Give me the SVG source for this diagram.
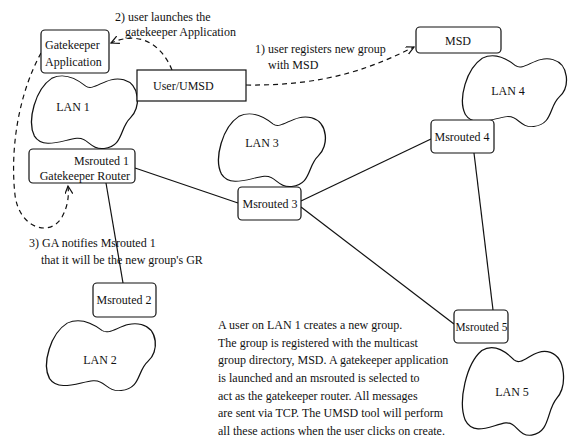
<svg xmlns="http://www.w3.org/2000/svg" width="570" height="442" viewBox="0 0 570 442">
<style>
text{font-family:"Liberation Serif","Times New Roman",serif;font-size:12px;fill:#111}
.box{fill:#fff;stroke:#111;stroke-width:1.2}
.cloud{fill:#fff;stroke:#111;stroke-width:1.2}
.link{stroke:#111;stroke-width:1.2;fill:none}
.dash{stroke:#111;stroke-width:1.2;fill:none;stroke-dasharray:5 4}
.c{text-anchor:middle}
.e{text-anchor:end}
</style>
<defs>
<marker id="arr" markerWidth="10" markerHeight="10" refX="8" refY="4" orient="auto" markerUnits="userSpaceOnUse">
<path d="M0,0 L8,4 L0,8" fill="none" stroke="#111" stroke-width="1.2"/>
</marker>
<path id="bean" d="M20,8 C32,0 44,10 51,18 C59,26 70,4 86,10 C101,16 102,46 92,59 C82,72 86,95 68,98 C55,100 54,84 43,85 C30,87 12,100 4,82 C-3,62 5,22 20,8 Z"/>
</defs>

<g id="connectors">
<path class="link" d="M135,168 L238,203"/>
<path class="link" d="M106,183 L123,283"/>
<path class="link" d="M301,201 L431,139"/>
<path class="link" d="M301,207 L454,324"/>
<path class="link" d="M474,153 L493,310"/>
<path class="dash" d="M246,85 C330,86 375,66 414,47" marker-end="url(#arr)"/>
<path class="dash" d="M172,70 C162,45 140,30 111,43" marker-end="url(#arr)"/>
<path class="dash" d="M41,53 C18,95 10,150 15,195 C19,228 50,238 62,217 C68,206 69,196 68,186" marker-end="url(#arr)"/>
</g>

<g id="lan1"><use href="#bean" class="cloud" transform="translate(30,72) scale(1.09,0.78)"/><text x="73" y="111" class="c">LAN 1</text></g>
<g id="lan3"><use href="#bean" class="cloud" transform="translate(217,110) scale(1.1,0.78)"/><text x="262" y="147" class="c">LAN 3</text></g>
<g id="lan4"><use href="#bean" class="cloud" transform="translate(461,52) scale(1.07,0.76)"/><text x="508" y="95" class="c">LAN 4</text></g>
<g id="lan2"><use href="#bean" class="cloud" transform="translate(45,317) scale(1.12,0.75)"/><text x="100" y="364" class="c">LAN 2</text></g>
<g id="lan5"><use href="#bean" class="cloud" transform="translate(461,343) scale(1.04,0.94)"/><text x="512" y="396" class="c">LAN 5</text></g>

<g id="gatekeeper-app"><rect class="box" x="41" y="30" width="68" height="43" rx="4"/><text x="45" y="49">Gatekeeper</text><text x="45" y="66">Application</text></g>
<g id="user-umsd"><rect class="box" x="137" y="70" width="109" height="31"/><text x="153" y="90">User/UMSD</text></g>
<g id="msd"><rect class="box" x="416" y="27" width="85" height="26" rx="4"/><text x="458" y="45" class="c">MSD</text></g>
<g id="msrouted1"><rect class="box" x="29" y="149" width="106" height="34" rx="4"/><text x="129" y="165" class="e">Msrouted 1</text><text x="130" y="180" class="e">Gatekeeper Router</text></g>
<g id="msrouted3"><rect class="box" x="238" y="187" width="63" height="33" rx="4"/><text x="270" y="208" class="c">Msrouted 3</text></g>
<g id="msrouted4"><rect class="box" x="431" y="120" width="63" height="33" rx="4"/><text x="462" y="141" class="c">Msrouted 4</text></g>
<g id="msrouted2"><rect class="box" x="93" y="283" width="63" height="34" rx="4"/><text x="124" y="304" class="c">Msrouted 2</text></g>
<g id="msrouted5"><rect class="box" x="454" y="310" width="54" height="33" rx="4"/><text x="507.5" y="331" class="e" textLength="52" lengthAdjust="spacingAndGlyphs">Msrouted 5</text></g>

<g id="labels">
<text x="115" y="21">2) user launches the</text>
<text x="125" y="36">gatekeeper Application</text>
<text x="255" y="53">1) user registers new group</text>
<text x="268" y="69">with MSD</text>
<text x="29" y="247">3) GA notifies Msrouted 1</text>
<text x="41" y="264">that it will be the new group's GR</text>
</g>
<g id="paragraph">
<text x="218" y="329">A user on LAN 1 creates a new group.</text>
<text x="218" y="347">The group is registered with the multicast</text>
<text x="218" y="364">group directory, MSD.  A gatekeeper application</text>
<text x="218" y="382">is launched and an msrouted is selected to</text>
<text x="218" y="400">act as the gatekeeper router.  All messages</text>
<text x="218" y="417">are sent via TCP.  The UMSD tool will perform</text>
<text x="218" y="435">all these actions when the user clicks on create.</text>
</g>
</svg>
